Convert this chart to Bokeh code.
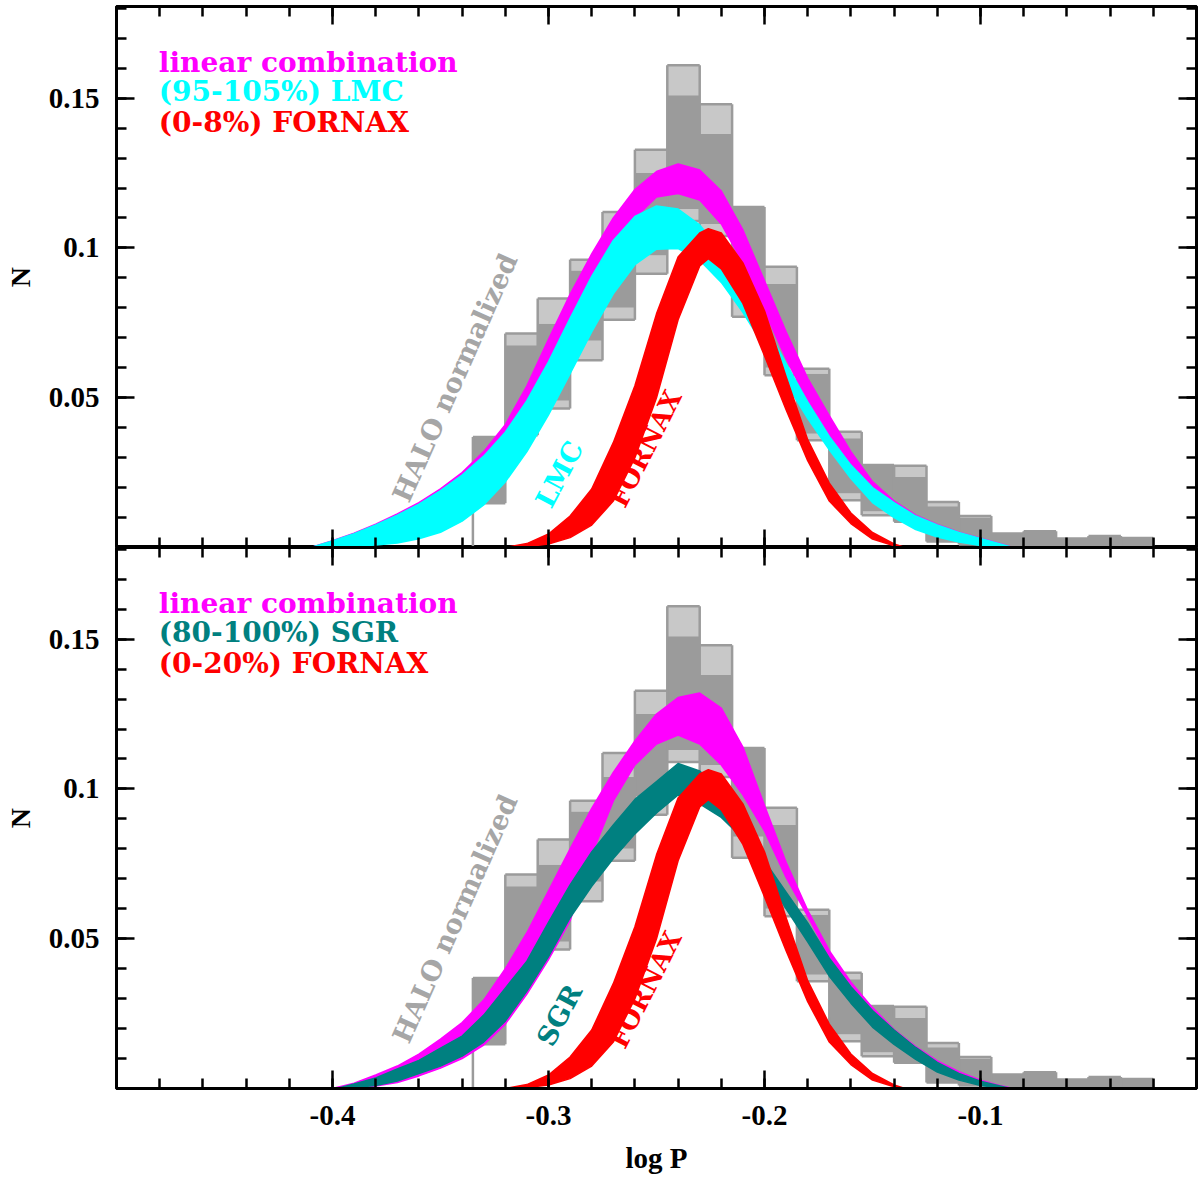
import numpy as np
from bokeh.plotting import figure
from bokeh.layouts import column
from bokeh.models import LinearAxis, FixedTicker, NumeralTickFormatter, Range1d
from bokeh.embed import file_html
from bokeh.resources import INLINE
from bokeh.core.properties import value

# ---------------- data ----------------
# HALO normalized histograms: bin edges and envelope of the many realisations
halo_edges = [-0.335, -0.320, -0.305, -0.290, -0.275, -0.260, -0.245, -0.230, -0.215, -0.200, -0.185,
              -0.170, -0.155, -0.140, -0.125, -0.110, -0.095, -0.080, -0.065, -0.050, -0.035, -0.020]
halo_max = [0.0369, 0.0714, 0.0831, 0.0961, 0.1120, 0.1328, 0.1610, 0.1480, 0.1137, 0.0937, 0.0597,
            0.0386, 0.0275, 0.0273, 0.0152, 0.0105, 0.0047, 0.0054, 0.0030, 0.0038, 0.0032]
halo_top = [0.0369, 0.0675, 0.0747, 0.0925, 0.1040, 0.1250, 0.1510, 0.1380, 0.1137, 0.0880, 0.0580,
            0.0365, 0.0275, 0.0235, 0.0138, 0.0100, 0.0047, 0.0054, 0.0030, 0.0038, 0.0032]
halo_bot = [0.0152, 0.0410, 0.0490, 0.0690, 0.0800, 0.0975, 0.1130, 0.1080, 0.0840, 0.0600, 0.0380,
            0.0180, 0.0120, 0.0086, 0.0020, 0.0010, 0.0, 0.0, 0.0, 0.0, 0.0]
halo_min = [0.0148, 0.0375, 0.0464, 0.0625, 0.0760, 0.0914, 0.1090, 0.1040, 0.0770, 0.0575, 0.0358,
            0.0158, 0.0108, 0.0086, 0.0020, 0.0010, 0.0, 0.0, 0.0, 0.0, 0.0]

# FORNAX band (same in both panels)
fornax_x = [-0.32, -0.31, -0.30, -0.29, -0.28, -0.27, -0.26, -0.25, -0.24, -0.23, -0.226, -0.22,
            -0.21, -0.20, -0.19, -0.18, -0.17, -0.16, -0.15, -0.14, -0.135]
fornax_hi = [0.0, 0.0013, 0.0045, 0.0105, 0.0195, 0.0350, 0.0540, 0.0780, 0.0970, 0.1050, 0.1064, 0.1050,
             0.0950, 0.0790, 0.0570, 0.0360, 0.0215, 0.0115, 0.0050, 0.0012, 0.0]
fornax_lo = [0.0, 0.0003, 0.0012, 0.0033, 0.0075, 0.0155, 0.0300, 0.0500, 0.0760, 0.0940, 0.0964, 0.0930,
             0.0815, 0.0640, 0.0460, 0.0290, 0.0155, 0.0080, 0.0028, 0.0006, 0.0]

# top panel: LMC band and linear combination
lmc_x = [-0.41, -0.40, -0.39, -0.38, -0.37, -0.36, -0.35, -0.34, -0.33, -0.32, -0.31, -0.30, -0.29,
         -0.28, -0.27, -0.26, -0.25, -0.24, -0.23, -0.22, -0.21, -0.20, -0.19, -0.18, -0.17, -0.16,
         -0.15, -0.14, -0.13, -0.12, -0.11, -0.10, -0.09, -0.085]
lmc_hi = [0.0, 0.0022, 0.0046, 0.0075, 0.0108, 0.0145, 0.0190, 0.0242, 0.0305, 0.0385, 0.0490, 0.0620,
          0.0765, 0.0905, 0.1025, 0.1105, 0.1140, 0.1130, 0.1077, 0.0989, 0.0876, 0.0747, 0.0614, 0.0486,
          0.0371, 0.0275, 0.0200, 0.0150, 0.0105, 0.0075, 0.0050, 0.0030, 0.0010, 0.0]
lmc_lo = [0.0, 0.0002, 0.0004, 0.0008, 0.0015, 0.0029, 0.0051, 0.0088, 0.0142, 0.0219, 0.0320, 0.0443,
          0.0580, 0.0720, 0.0847, 0.0944, 0.0996, 0.0998, 0.0959, 0.0885, 0.0785, 0.0669, 0.0548, 0.0431,
          0.0326, 0.0230, 0.0150, 0.0100, 0.0060, 0.0035, 0.0018, 0.0007, 0.0001, 0.0]
comb1_x = lmc_x
comb1_hi = [0.0, 0.0023, 0.0048, 0.0078, 0.0112, 0.0150, 0.0196, 0.0250, 0.0320, 0.0410, 0.0540, 0.0695,
            0.0845, 0.0980, 0.1100, 0.1195, 0.1255, 0.1280, 0.1260, 0.1190, 0.1060, 0.0890, 0.0720, 0.0565,
            0.0440, 0.0320, 0.0220, 0.0155, 0.0108, 0.0077, 0.0051, 0.0031, 0.0011, 0.0]
comb1_lo = [0.0, 0.0005, 0.0010, 0.0020, 0.0035, 0.0055, 0.0085, 0.0125, 0.0180, 0.0260, 0.0360, 0.0490,
            0.0640, 0.0800, 0.0960, 0.1100, 0.1170, 0.1182, 0.1160, 0.1080, 0.0950, 0.0790, 0.0630, 0.0490,
            0.0370, 0.0270, 0.0180, 0.0120, 0.0075, 0.0045, 0.0025, 0.0010, 0.0003, 0.0]

# bottom panel: SGR band and linear combination
sgr_x = [-0.398, -0.39, -0.38, -0.37, -0.36, -0.35, -0.34, -0.33, -0.32, -0.31, -0.30, -0.29, -0.28,
         -0.27, -0.26, -0.25, -0.24, -0.23, -0.22, -0.21, -0.20, -0.19, -0.18, -0.17, -0.16, -0.15,
         -0.14, -0.13, -0.12, -0.11, -0.10, -0.09, -0.086]
sgr_hi = [0.0, 0.0015, 0.0035, 0.0065, 0.0094, 0.0135, 0.0175, 0.0245, 0.0335, 0.0425, 0.0555, 0.0680,
          0.0790, 0.0880, 0.0965, 0.1025, 0.1085, 0.1060, 0.0995, 0.0900, 0.0760, 0.0655, 0.0553, 0.0435,
          0.0340, 0.0260, 0.0195, 0.0137, 0.0087, 0.0050, 0.0024, 0.0007, 0.0]
sgr_lo = [0.0, 0.0003, 0.0010, 0.0025, 0.0050, 0.0075, 0.0108, 0.0155, 0.0225, 0.0325, 0.0440, 0.0570,
          0.0675, 0.0768, 0.0850, 0.0920, 0.0980, 0.0950, 0.0905, 0.0835, 0.0720, 0.0600, 0.0490, 0.0375,
          0.0285, 0.0205, 0.0147, 0.0097, 0.0055, 0.0028, 0.0010, 0.0002, 0.0]
comb2_x = [-0.40, -0.39, -0.38, -0.37, -0.36, -0.35, -0.34, -0.33, -0.32, -0.31, -0.30, -0.29, -0.28,
           -0.27, -0.26, -0.25, -0.24, -0.23, -0.22, -0.21, -0.20, -0.19, -0.18, -0.17, -0.16, -0.15,
           -0.14, -0.13, -0.12, -0.11, -0.10, -0.09, -0.085]
comb2_hi = [0.0, 0.0018, 0.0045, 0.0075, 0.0115, 0.0165, 0.0220, 0.0295, 0.0400, 0.0520, 0.0660, 0.0800,
            0.0935, 0.1055, 0.1160, 0.1250, 0.1305, 0.1320, 0.1270, 0.1140, 0.0945, 0.0755, 0.0595, 0.0460,
            0.0355, 0.0270, 0.0197, 0.0140, 0.0092, 0.0056, 0.0028, 0.0008, 0.0]
comb2_lo = [0.0, 0.0002, 0.0008, 0.0020, 0.0042, 0.0068, 0.0100, 0.0145, 0.0215, 0.0315, 0.0430, 0.0560,
            0.0780, 0.0960, 0.1080, 0.1150, 0.1180, 0.1150, 0.1080, 0.0980, 0.0860, 0.0705, 0.0575, 0.0440,
            0.0335, 0.0255, 0.0190, 0.0133, 0.0085, 0.0048, 0.0022, 0.0006, 0.0]

x_major = [-0.4, -0.3, -0.2, -0.1]
y_major = [0.05, 0.1, 0.15]
legend_top = ["linear combination", "(95-105%) LMC", "(0-8%) FORNAX"]
legend_bot = ["linear combination", "(80-100%) SGR", "(0-20%) FORNAX"]

# ---------------- styling ----------------
GRAY = "#9b9b9b"
MAGENTA = "#ff00ff"
CYAN = "#00ffff"
TEAL = "#008080"
RED = "#ff0000"
SERIF = "Liberation Serif"
LFONT = "DejaVu Serif"
X_RANGE = (-0.5, 0.0)
Y_RANGE = (0.0, 0.1806)
FW, FH = 1080, 541

x_minor = [round(-0.5 + 0.02 * i, 2) for i in range(1, 25)]
y_minor = [round(0.01 * i, 2) for i in range(1, 19)]


def make_axis(kind, labels):
    if kind == "x":
        ticker = FixedTicker(ticks=x_major, minor_ticks=x_minor)
        fmt = NumeralTickFormatter(format="0.0")
        ticks = x_major
    else:
        ticker = FixedTicker(ticks=y_major, minor_ticks=y_minor)
        fmt = NumeralTickFormatter(format="0.[00]")
        ticks = y_major
    ax = LinearAxis(ticker=ticker, formatter=fmt)
    ax.major_tick_in = 18
    ax.major_tick_out = 0
    ax.minor_tick_in = 10
    ax.minor_tick_out = 0
    ax.axis_line_width = 3
    ax.axis_line_color = "black"
    ax.major_tick_line_width = 2.5
    ax.minor_tick_line_width = 2.5
    ax.major_tick_line_color = "black"
    ax.minor_tick_line_color = "black"
    ax.major_label_text_font = SERIF
    ax.major_label_text_font_style = "bold"
    ax.major_label_text_font_size = "29px"
    ax.major_label_text_color = "black"
    ax.axis_label_text_color = "black"
    if not labels:
        ax.major_label_overrides = {t: "" for t in ticks}
        ax.major_label_standoff = 0
        ax.major_label_text_font_size = "0px"
    return ax


def draw_halo(p):
    edges = np.array(halo_edges)
    left, right = edges[:-1], edges[1:]
    hmax, htop = np.array(halo_max), np.array(halo_top)
    hbot, hmin = np.array(halo_bot), np.array(halo_min)
    p.quad(left=left, right=right, bottom=htop, top=hmax, fill_color=GRAY, fill_alpha=0.55, line_color=None)
    p.quad(left=left, right=right, bottom=hmin, top=hbot, fill_color=GRAY, fill_alpha=0.55, line_color=None)
    p.quad(left=left, right=right, bottom=hbot, top=htop, fill_color=GRAY, line_color=None)
    p.segment(x0=left, x1=right, y0=hmax, y1=hmax, line_color=GRAY, line_width=2.5)
    p.segment(x0=left, x1=right, y0=hmin, y1=hmin, line_color=GRAY, line_width=2.5)
    vlo = np.minimum(np.r_[0.0, hmin], np.r_[hmin, 0.0])
    vhi = np.maximum(np.r_[0.0, hmax], np.r_[hmax, 0.0])
    p.segment(x0=edges, x1=edges, y0=vlo, y1=vhi, line_color=GRAY, line_width=2.5)


def draw_band(p, x, lo, hi, color):
    p.varea(x=x, y1=lo, y2=hi, fill_color=color)
    p.line(x=x, y=lo, line_color=color, line_width=1.5, line_join="round")
    p.line(x=x, y=hi, line_color=color, line_width=1.5, line_join="round")


def make_panel(comb, comp, comp_color, comp_name, legend, bottom):
    p = figure(frame_width=FW, frame_height=FH, x_range=Range1d(*X_RANGE), y_range=Range1d(*Y_RANGE),
               output_backend="svg", toolbar_location=None,
               x_axis_location=None, y_axis_location=None,
               min_border_left=116, min_border_right=4,
               min_border_top=0 if bottom else 6,
               min_border_bottom=85 if bottom else 0)
    p.grid.visible = False
    p.outline_line_color = "black"
    p.outline_line_width = 3
    p.background_fill_color = "white"
    p.border_fill_color = "white"

    ya = make_axis("y", True)
    ya.axis_label = "N"
    ya.axis_label_text_font = SERIF
    ya.axis_label_text_font_style = "bold"
    ya.axis_label_text_font_size = "28px"
    ya.axis_label_standoff = 10
    ya.major_label_standoff = 17
    p.add_layout(ya, "left")
    p.add_layout(make_axis("y", False), "right")
    xa = make_axis("x", bottom)
    if bottom:
        xa.axis_label = "log P"
        xa.axis_label_text_font = SERIF
        xa.axis_label_text_font_style = "bold"
        xa.axis_label_text_font_size = "29px"
        xa.axis_label_standoff = 14
        xa.major_label_standoff = 17
    p.add_layout(xa, "below")
    p.add_layout(make_axis("x", False), "above")

    draw_halo(p)
    draw_band(p, *comb, MAGENTA)
    draw_band(p, *comp, comp_color)
    draw_band(p, fornax_x, fornax_lo, fornax_hi, RED)

    tf = value(LFONT)
    p.text(x=[-0.4804] * 3, y=[0.1619, 0.1522, 0.1419], text=legend,
           text_color=[MAGENTA, comp_color, RED], text_font=tf, text_font_style="bold",
           text_font_size="28px", text_align="left", text_baseline="middle")
    p.text(x=[-0.3433], y=[0.0567], text=["HALO normalized"], angle=66, angle_units="deg",
           text_color="#a6a6a6", text_font=tf, text_font_style="bold", text_font_size="27px",
           text_align="center", text_baseline="middle")
    p.text(x=[-0.2950], y=[0.0245], text=[comp_name], angle=62, angle_units="deg",
           text_color=comp_color, text_font=tf, text_font_style="bold", text_font_size="27px",
           text_align="center", text_baseline="middle")
    p.text(x=[-0.2550], y=[0.0330], text=["FORNAX"], angle=63, angle_units="deg",
           text_color=RED, text_font=tf, text_font_style="bold", text_font_size="26px",
           text_align="center", text_baseline="middle")
    return p


p_top = make_panel((comb1_x, comb1_lo, comb1_hi), (lmc_x, lmc_lo, lmc_hi), CYAN, "LMC", legend_top, False)
p_bot = make_panel((comb2_x, comb2_lo, comb2_hi), (sgr_x, sgr_lo, sgr_hi), TEAL, "SGR", legend_bot, True)

layout = column(p_top, p_bot, spacing=0)
open("out.html", "w").write(file_html(layout, INLINE))
